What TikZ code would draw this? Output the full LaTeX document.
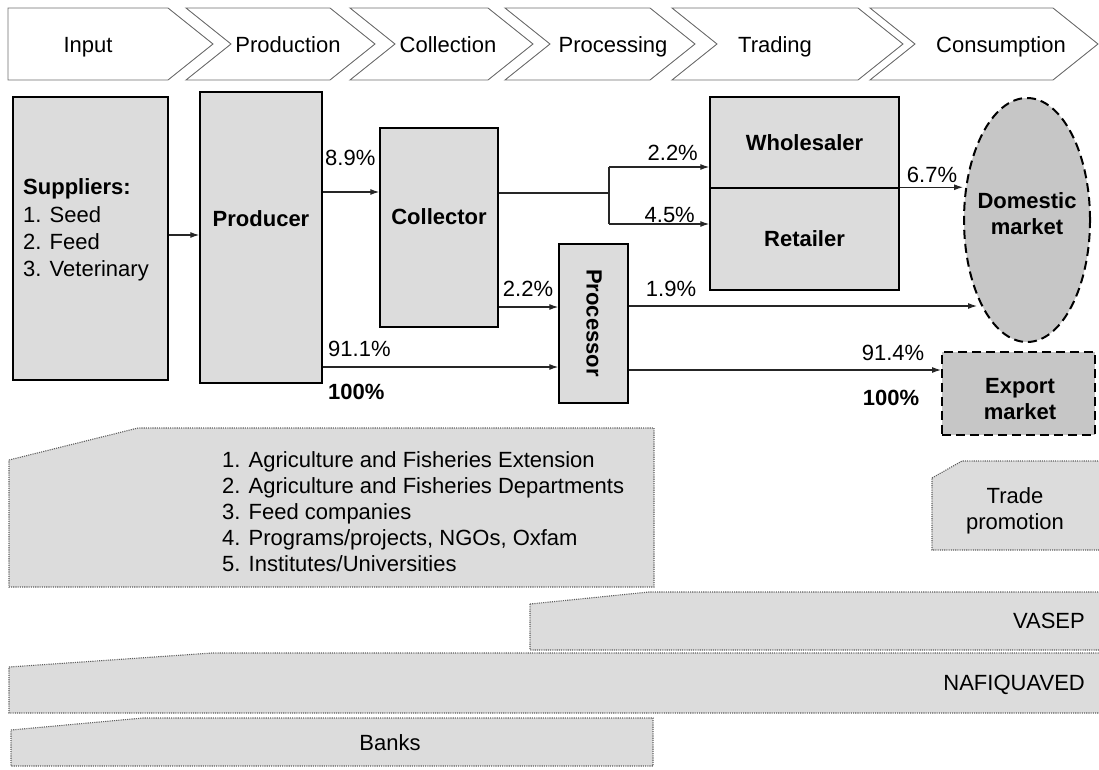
\documentclass[tikz,border=0pt]{standalone}
\usepackage{fontspec}
\setmainfont{Liberation Sans}
\usetikzlibrary{arrows.meta,shapes.geometric}
\definecolor{boxgray}{HTML}{DCDCDC}
\definecolor{mktgray}{HTML}{C6C6C6}
\definecolor{chevline}{HTML}{6E6E6E}
\definecolor{dotline}{HTML}{5E5E5E}
\begin{document}
\begin{tikzpicture}[x=1pt,y=-1pt,
  font=\fontsize{22}{26}\selectfont,
  chev/.style={draw=chevline,fill=white,line width=0.9pt},
  chevtxt/.style={inner sep=0pt,anchor=base},
  mainbox/.style={draw=black,fill=boxgray,line width=1.5pt,inner sep=0pt},
  mkt/.style={draw=black,fill=mktgray,line width=2pt,dash pattern=on 9pt off 5pt,inner sep=0pt},
  support/.style={draw=dotline,fill=boxgray,line width=1.1pt,dash pattern=on 1.1pt off 1.1pt},
  flow/.style={draw=black!85,line width=1.1pt},
  arr/.style={flow,-{Latex[length=9pt,width=6pt]}},
  lbl/.style={inner sep=0pt},
  txt/.style={inner sep=0pt,align=center},
]
\useasboundingbox (0,0) rectangle (1099,769);

% chevrons
\path[chev] (8,8) -- (168,8) -- (213,44) -- (168,80) -- (8,80) -- cycle;
\node[chevtxt] (cInput) at (88,52) {Input};
\path[chev] (186,8) -- (330,8) -- (375,44) -- (330,80) -- (186,80) -- (231,44) -- cycle;
\node[chevtxt] (cProd) at (288,52) {Production};
\path[chev] (350,8) -- (488,8) -- (533,44) -- (488,80) -- (350,80) -- (395,44) -- cycle;
\node[chevtxt] (cColl) at (448,52) {Collection};
\path[chev] (505,8) -- (650,8) -- (695,44) -- (650,80) -- (505,80) -- (550,44) -- cycle;
\node[chevtxt] (cProc) at (613,52) {Processing};
\path[chev] (672,8) -- (858,8) -- (903,44) -- (858,80) -- (672,80) -- (717,44) -- cycle;
\node[chevtxt] (cTrad) at (775,52) {Trading};
\path[chev] (870,8) -- (1053,8) -- (1098,44) -- (1053,80) -- (870,80) -- (915,44) -- cycle;
\node[chevtxt] (cCons) at (1001,52) {Consumption};

% main boxes
\node[mainbox,minimum width=155pt,minimum height=283pt] (sup) at (90.5,238.5) {};
\node[txt,anchor=west,align=left,font=\fontsize{22}{27.3}\selectfont] (suptxt) at (23,230) {\textbf{Suppliers:}\\1. Seed\\2. Feed\\3. Veterinary};
\node[mainbox,minimum width=122pt,minimum height=291pt] (prod) at (261,237.5) {};
\node[txt] (prodtxt) at (261,219) {\textbf{Producer}};
\node[mainbox,minimum width=118pt,minimum height=199pt] (coll) at (439,227.5) {};
\node[txt] (colltxt) at (439,217) {\textbf{Collector}};
\node[mainbox,minimum width=69pt,minimum height=159pt] (proc) at (593.5,323.5) {};
\node[txt,rotate=-90] (proctxt) at (594,323) {\textbf{Processor}};
\node[mainbox,minimum width=189pt,minimum height=91pt] (ws) at (804.5,142.5) {\textbf{Wholesaler}};
\node[mainbox,minimum width=189pt,minimum height=102pt] (rt) at (804.5,239) {\textbf{Retailer}};
\node[mkt,ellipse,minimum width=126pt,minimum height=244pt,align=center] (dom) at (1027,220) {};
\node[txt] (domtxt) at (1027,214) {\textbf{Domestic}\\\textbf{market}};
\node[mkt,minimum width=153pt,minimum height=83pt] (exp) at (1018.5,393.5) {};
\node[txt] (exptxt) at (1020,399) {\textbf{Export}\\\textbf{market}};

% flows
\draw[arr] (sup.east |- 0,235) -- (prod.west |- 0,235);
\draw[arr] (prod.east |- 0,192) -- (coll.west |- 0,192);
\coordinate (split) at (609,193);
\draw[flow] (coll.east |- split) -- (split);
\draw[flow] (split |- 0,167) -- (split |- 0,224);
\draw[arr] (split |- 0,167) -- (ws.west |- 0,167);
\draw[arr] (split |- 0,224) -- (rt.west |- 0,224);
\draw[arr] (coll.east |- 0,307) -- (proc.west |- 0,307);
\draw[arr] (prod.east |- 0,367) -- (proc.west |- 0,367);
\coordinate (domin) at (977,306);
\draw[arr] (proc.east |- 0,306) -- (domin);
\draw[arr] (rt.north east) -- (dom.west |- rt.north east);
\draw[arr] (proc.east |- 0,370) -- (exp.west |- 0,370);

% flow labels
\node[lbl,anchor=west] (l89) at (325,158) {8.9\%};
\node[lbl,anchor=west] (l911) at (328,349) {91.1\%};
\node[lbl,anchor=west] (l100a) at (328,392) {\textbf{100\%}};
\node[lbl,anchor=east] (l22a) at (698,153) {2.2\%};
\node[lbl,anchor=east] (l45) at (695,215) {4.5\%};
\node[lbl] (l22b) at (528,289) {2.2\%};
\node[lbl] (l19) at (671,289) {1.9\%};
\node[lbl] (l67) at (932,175) {6.7\%};
\node[lbl] (l914) at (893,353) {91.4\%};
\node[lbl] (l100b) at (891,398) {\textbf{100\%}};

% supporting institutions
\path[support] (9,460) -- (138,428) -- (654,428) -- (654,587) -- (9,587) -- cycle;
\node[txt,anchor=west,align=left] (agri) at (222,512) {1. Agriculture and Fisheries Extension\\2. Agriculture and Fisheries Departments\\3. Feed companies\\4. Programs/projects, NGOs, Oxfam\\5. Institutes/Universities};
\path[support] (932,478) -- (962,461) -- (1102,461) -- (1102,550) -- (932,550) -- cycle;
\node[txt] (trade) at (1015,511) {Trade\\promotion};
\path[support] (530,604) -- (649,592) -- (1102,592) -- (1102,650) -- (530,650) -- cycle;
\node[lbl,anchor=east] (vasep) at (1085,621) {VASEP};
\path[support] (9,667) -- (212,653) -- (1102,653) -- (1102,713) -- (9,713) -- cycle;
\node[lbl,anchor=east] (nafi) at (1085,685) {NAFIQUAVED};
\path[support] (11,730) -- (143,718) -- (653,718) -- (653,766) -- (11,766) -- cycle;
\node[lbl] (banks) at (390,743) {Banks};
\end{tikzpicture}
\end{document}
